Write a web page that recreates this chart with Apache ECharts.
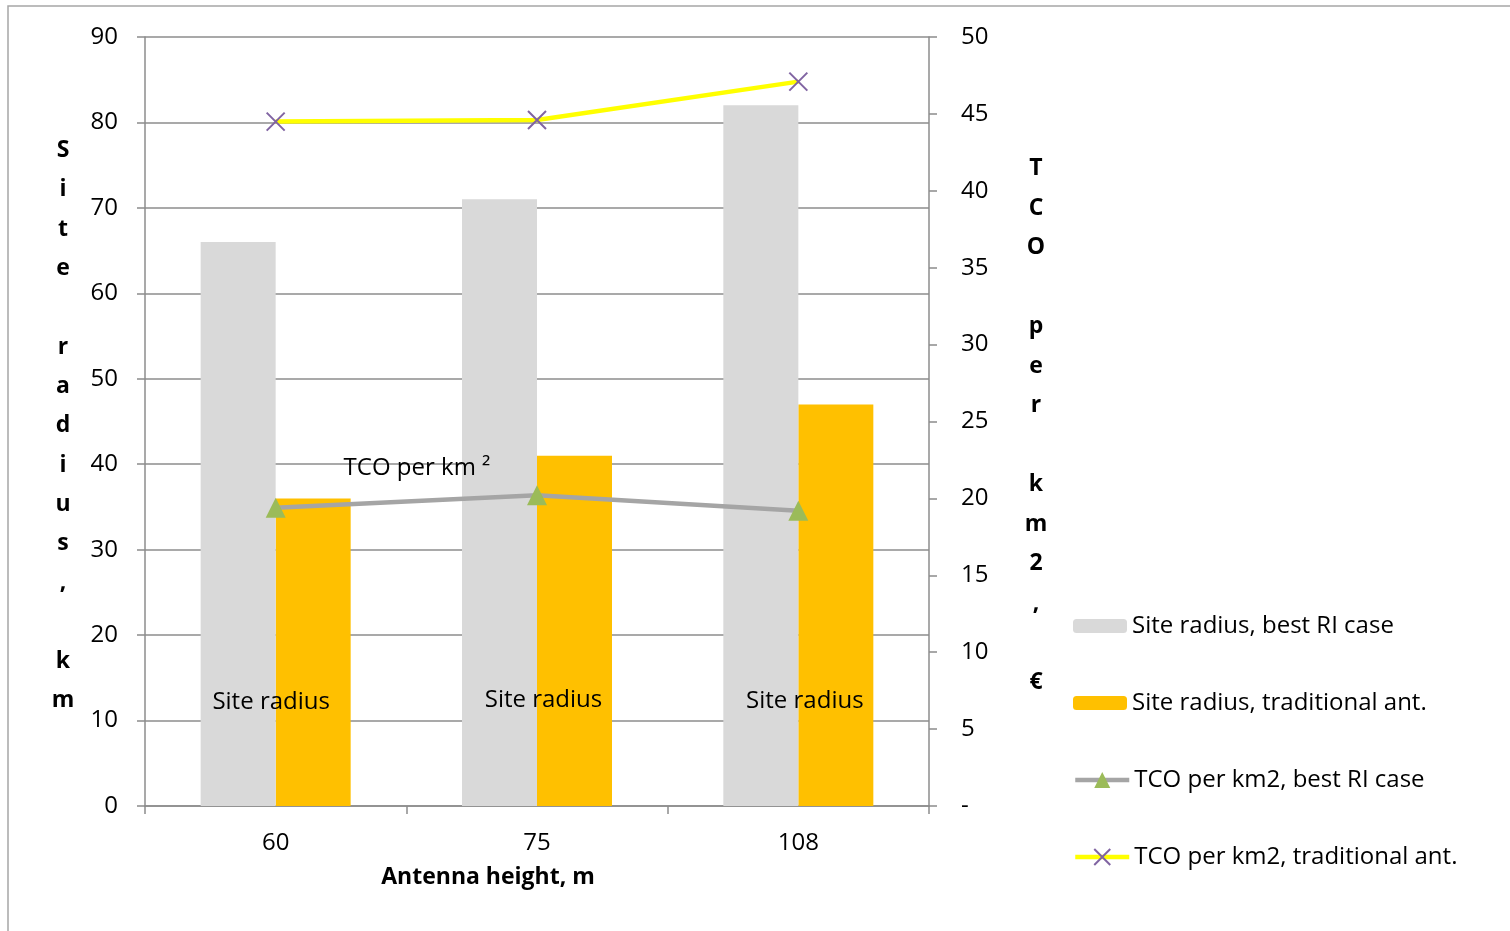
<!DOCTYPE html>
<html><head><meta charset="utf-8">
<script src="https://cdn.jsdelivr.net/npm/echarts@6/dist/echarts.min.js"></script>
<style>html,body{margin:0;padding:0;background:#fff}#c{width:1510px;height:931px}</style>
</head><body><div id="c"></div>
<script>
const categories = ['60', '75', '108'];
const radiusBestRI = [66, 71, 82];
const radiusTraditional = [36, 41, 47];
const tcoBestRI = [19.4, 20.2, 19.2];
const tcoTraditional = [44.5, 44.6, 47.1];
const seriesNames = ['Site radius, best RI case', 'Site radius, traditional ant.', 'TCO per km2, best RI case', 'TCO per km2, traditional ant.'];
const leftTitle = 'Site radius, km';
const rightTitle = 'TCO per km2, €';
const xTitle = 'Antenna height, m';

const FONT = '"Open Sans", sans-serif';
const FS = 24;
const FSB = 23;
const labelOffsets = [[33, -87], [44, -89], [44, -88]];

const chart = echarts.init(document.getElementById('c'));
chart.setOption({
  animation: false,
  textStyle: { fontFamily: FONT, color: '#000' },
  grid: { left: 145, right: 581, top: 37, bottom: 125, containLabel: false },
  xAxis: {
    type: 'category', data: categories, boundaryGap: true,
    axisLine: { lineStyle: { color: '#8c8c8c', width: 1.5 } },
    axisTick: { show: true, length: 8, alignWithLabel: false, lineStyle: { color: '#8c8c8c', width: 1.5 } },
    axisLabel: { fontSize: FS, color: '#000', margin: 25, fontFamily: FONT },
    name: xTitle, nameLocation: 'middle', nameGap: 60,
    nameTextStyle: { fontSize: FSB, fontWeight: 'bold', color: '#000', fontFamily: FONT, padding: [0, 98, 0, 0] }
  },
  yAxis: [{
    type: 'value', min: 0, max: 90, interval: 10, position: 'left',
    axisLine: { show: true, lineStyle: { color: '#8c8c8c', width: 1.5 } },
    axisTick: { show: true, length: 8, lineStyle: { color: '#8c8c8c', width: 1.5 } },
    splitLine: { show: true, lineStyle: { color: '#8c8c8c', width: 1.5 } },
    axisLabel: { fontSize: FS, color: '#000', margin: 27, fontFamily: FONT }
  }, {
    type: 'value', min: 0, max: 50, interval: 5, position: 'right',
    axisLine: { show: true, lineStyle: { color: '#8c8c8c', width: 1.5 } },
    axisTick: { show: true, length: 8, lineStyle: { color: '#8c8c8c', width: 1.5 } },
    splitLine: { show: false },
    axisLabel: { fontSize: FS, color: '#000', margin: 32, fontFamily: FONT,
      formatter: v => v === 0 ? '-' : String(v) }
  }],
  legend: [{
    orient: 'vertical', left: 1068, top: 609,
    itemWidth: 54, itemHeight: 14, itemGap: 53,
    textStyle: { fontSize: FS, color: '#000', fontFamily: FONT, lineHeight: 24 },
    data: [seriesNames[0], seriesNames[1]]
  }, {
    orient: 'vertical', left: 1068, top: 763,
    itemWidth: 54, itemHeight: 20, itemGap: 53,
    textStyle: { fontSize: FS, color: '#000', fontFamily: FONT, lineHeight: 24 },
    data: [
      { name: seriesNames[2], lineStyle: { width: 4.5 } },
      { name: seriesNames[3], lineStyle: { width: 4.5 } }
    ]
  }],
  series: [{
    name: seriesNames[0], type: 'bar', yAxisIndex: 0, barWidth: 75, barGap: '0%',
    itemStyle: { color: '#D9D9D9' },
    data: radiusBestRI.map((v, i) => ({ value: v, label: { offset: labelOffsets[i] } })),
    label: { show: true, position: 'insideBottom', distance: 5, formatter: 'Site radius',
      fontSize: FS, color: '#000', fontFamily: FONT },
    z: 2
  }, {
    name: seriesNames[1], type: 'bar', yAxisIndex: 0, barWidth: 75, barGap: '0%',
    itemStyle: { color: '#FFC000' },
    data: radiusTraditional, z: 1
  }, {
    name: seriesNames[2], type: 'line', yAxisIndex: 1,
    symbol: 'triangle', symbolSize: 20,
    itemStyle: { color: '#9BBB59' },
    lineStyle: { color: '#A5A5A5', width: 4.5 },
    data: tcoBestRI.map((v, i) => i === 1 ? ({ value: v, label: { show: true, position: 'top', distance: 5,
      offset: [-120, 0], formatter: 'TCO per km ²', fontSize: FS, color: '#000', fontFamily: FONT } }) : v),
    z: 5
  }, {
    name: seriesNames[3], type: 'line', yAxisIndex: 1,
    symbol: 'path://M0,0 L10,10 M10,0 L0,10', symbolSize: 18,
    itemStyle: { color: 'rgba(0,0,0,0)', borderColor: '#8064A2', borderWidth: 2 },
    lineStyle: { color: '#FFFF00', width: 4.5 },
    data: tcoTraditional, z: 5
  }],
  graphic: [{
    type: 'rect', shape: { x: 8, y: 6, width: 1520, height: 940 },
    style: { fill: 'none', stroke: '#a6a6a6', lineWidth: 1.5 }, silent: true, z: -10
  }, {
    type: 'text',
    style: { text: leftTitle.split('').join('\n'), x: 63, y: 131, textAlign: 'center',
      fontSize: FSB, fontWeight: 'bold', lineHeight: 39.3, fill: '#000', fontFamily: FONT }
  }, {
    type: 'text',
    style: { text: rightTitle.split('').join('\n'), x: 1036, y: 149, textAlign: 'center',
      fontSize: FSB, fontWeight: 'bold', lineHeight: 39.5, fill: '#000', fontFamily: FONT }
  }]
});
</script>
</body></html>
